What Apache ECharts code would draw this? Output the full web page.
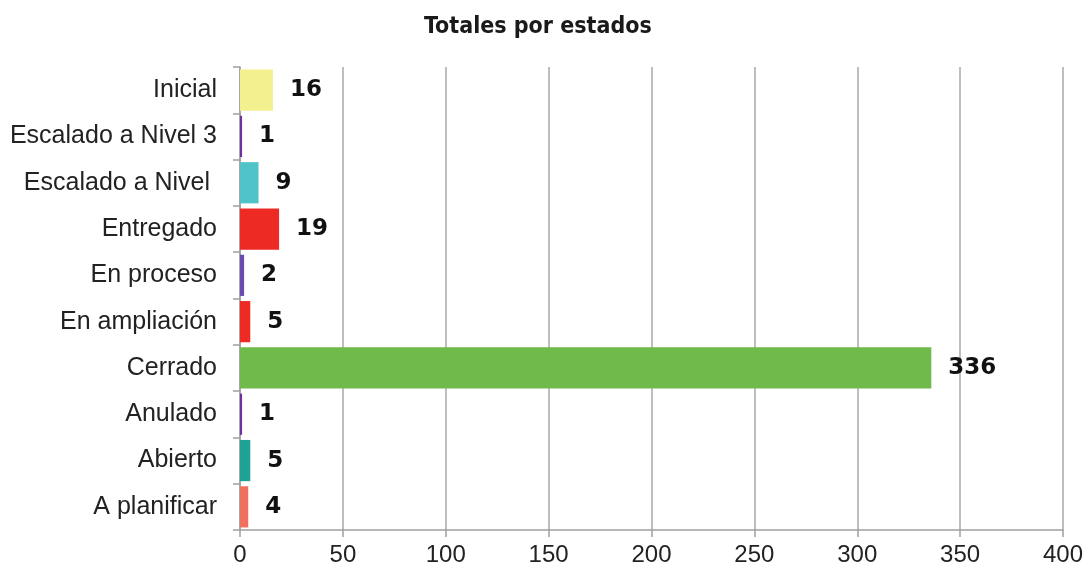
<!DOCTYPE html>
<html>
<head>
<meta charset="utf-8">
<script src="https://cdn.jsdelivr.net/npm/echarts@6/dist/echarts.min.js"></script>
<style>
html, body { margin: 0; padding: 0; background: #fff; }
#main { width: 1092px; height: 574px; }
</style>
</head>
<body>
<div id="main"></div>
<script>
// estados, de arriba a abajo
var categories = ["Inicial", "Escalado a Nivel 3", "Escalado a Nivel ", "Entregado", "En proceso",
  "En ampliación", "Cerrado", "Anulado", "Abierto", "A planificar"];
var values = [16, 1, 9, 19, 2, 5, 336, 1, 5, 4];
var barColors = ["#f3f08e", "#7030a0", "#4fc3c8", "#ee2a24", "#6a4cb0",
  "#ee2a24", "#70ba4c", "#7030a0", "#1fa195", "#f07060"];
var xTicks = { min: 0, max: 400, interval: 50 };

var myChart = echarts.init(document.getElementById("main"));

var option = {
  animation: false,
  title: {
    text: "Totales por estados",
    left: 419,
    top: 11,
    textStyle: {
      fontFamily: "'DejaVu Sans Condensed', 'Liberation Sans', sans-serif",
      fontWeight: "bold",
      fontSize: 23,
      color: "#1a1a1a"
    }
  },
  grid: { left: 240, right: 29, top: 67, bottom: 44 },
  xAxis: {
    type: "value",
    min: xTicks.min,
    max: xTicks.max,
    interval: xTicks.interval,
    axisLine: { show: true, lineStyle: { color: "#a0a0a0", width: 1.5 } },
    axisTick: { show: true, length: 7, lineStyle: { color: "#a0a0a0", width: 1.5 } },
    splitLine: { show: true, lineStyle: { color: "#a8a8a8", width: 1.5 } },
    axisLabel: { fontFamily: "Liberation Sans", fontSize: 24, color: "#222", margin: 13 }
  },
  yAxis: {
    type: "category",
    inverse: true,
    data: categories,
    axisLine: { show: true, lineStyle: { color: "#a0a0a0", width: 1.5 } },
    axisTick: { show: true, length: 7, lineStyle: { color: "#a0a0a0", width: 1.5 } },
    axisLabel: { fontFamily: "Liberation Sans", fontSize: 25, color: "#222", margin: 23 }
  },
  series: [
    {
      type: "bar",
      barCategoryGap: "11%",
      data: values.map(function (v, i) {
        return { value: v, itemStyle: { color: barColors[i] } };
      }),
      label: {
        show: true,
        position: "right",
        distance: 17,
        fontFamily: "'DejaVu Sans', sans-serif",
        fontWeight: "bold",
        fontSize: 23,
        color: "#111"
      }
    }
  ]
};

myChart.setOption(option);
</script>
</body>
</html>
